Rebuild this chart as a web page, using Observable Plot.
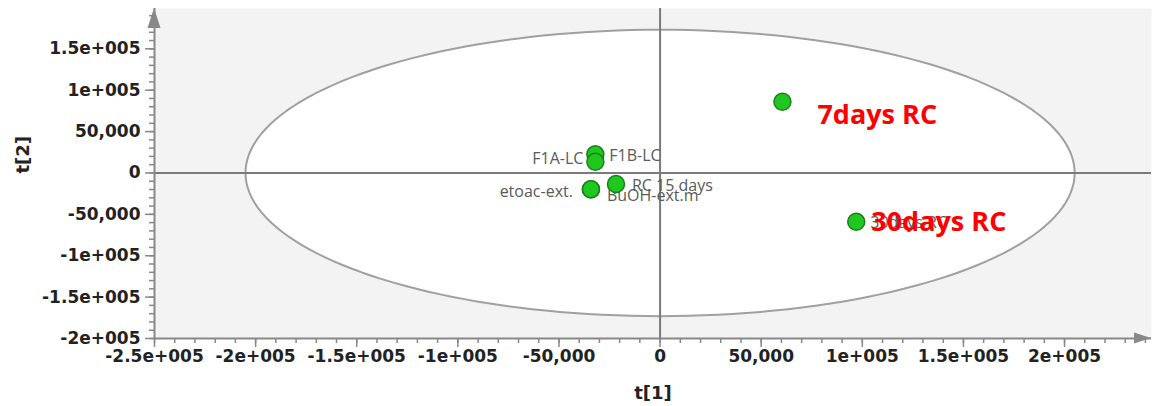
<!DOCTYPE html>
<html><head><meta charset="utf-8">
<script src="https://cdn.jsdelivr.net/npm/d3@7"></script>
<script src="https://cdn.jsdelivr.net/npm/@observablehq/plot@0.6"></script>
<style>body{margin:0;background:#fff}</style>
</head><body><div id="chart"></div>
<script>
// Sample scores (t[1], t[2])
const samples = ["F1B-LC", "F1A-LC", "etoac-ext.", "BuOH-ext.m", "RC 15 days", "7days RC", "30days RC"];
const t1 = [-32000, -32000, -34200, -34200, -21800, 60500, 97000];
const t2 = [22600, 13500, -19700, -19700, -13400, 86000, -59000];

// Tick labels
const xTicks = [-250000, -200000, -150000, -100000, -50000, 0, 50000, 100000, 150000, 200000];
const xTickLabels = ["-2.5e+005", "-2e+005", "-1.5e+005", "-1e+005", "-50,000", "0", "50,000", "1e+005", "1.5e+005", "2e+005"];
const yTicks = [-200000, -150000, -100000, -50000, 0, 50000, 100000, 150000];
const yTickLabels = ["-2e+005", "-1.5e+005", "-1e+005", "-50,000", "0", "50,000", "1e+005", "1.5e+005"];

// Hotelling T2 ellipse semi-axes
const ellipseA = 205000;
const ellipseB = 173000;

// Red annotations
const annotationNames = ["7days RC", "30days RC"];

// Build tables
const points = samples.map((s, i) => ({name: s, t1: t1[i], t2: t2[i]}));
const ellipse = d3.range(0, 361, 2).map(a => ({
  x: ellipseA * Math.cos(a * Math.PI / 180),
  y: ellipseB * Math.sin(a * Math.PI / 180)
}));
const xMinor = d3.range(-250000, 243000, 10000);
const yMinor = d3.range(-200000, 198700, 10000);

const labelPlacement = [
  {name: "F1B-LC", anchor: "start", dx: 14, dy: 1.5},
  {name: "F1A-LC", anchor: "end", dx: -12, dy: -2.5},
  {name: "etoac-ext.", anchor: "end", dx: -18, dy: 3},
  {name: "BuOH-ext.m", anchor: "start", dx: 16, dy: 6.5},
  {name: "RC 15 days", anchor: "start", dx: 16, dy: 1.7},
  {name: "30days RC", anchor: "start", dx: 14, dy: 1}
];
const annotPlacement = {"7days RC": {dx: 35, dy: 14}, "30days RC": {dx: 15, dy: 1}};

const labelMarks = labelPlacement.map(p => Plot.text(points.filter(d => d.name === p.name), {
  x: "t1", y: "t2", text: "name", textAnchor: p.anchor, dx: p.dx, dy: p.dy,
  fill: "#5a5a5a", fontSize: 16, fontWeight: "normal", fontFamily: "'Open Sans', sans-serif"
}));
const annotMarks = annotationNames.map(n => Plot.text(points.filter(d => d.name === n), {
  x: "t1", y: "t2", text: "name", textAnchor: "start",
  dx: annotPlacement[n].dx, dy: annotPlacement[n].dy,
  fill: "#ff0000", fontSize: 27, fontWeight: "bold", fontFamily: "'Open Sans', sans-serif"
}));

const chart = Plot.plot({
  width: 1153,
  height: 406,
  marginLeft: 154,
  marginRight: 2,
  marginTop: 8,
  marginBottom: 68,
  style: {fontFamily: "'DejaVu Sans', sans-serif", fontSize: "17px", fontWeight: "bold", background: "#fff"},
  x: {domain: [-250000, 243000]},
  y: {domain: [-200000, 198700]},
  marks: [
    Plot.frame({fill: "#f3f3f3", stroke: "none"}),
    Plot.line(ellipse, {x: "x", y: "y", fill: "white", stroke: "#a0a0a0", strokeWidth: 2}),
    Plot.ruleX([0], {stroke: "#7a7a7a", strokeWidth: 2}),
    Plot.ruleY([0], {stroke: "#7a7a7a", strokeWidth: 2}),
    Plot.axisX({ticks: xMinor, tickSize: 5, tickFormat: () => "", stroke: "#888", strokeWidth: 1.5, label: null}),
    Plot.axisY({ticks: yMinor, tickSize: 5, tickFormat: () => "", stroke: "#888", strokeWidth: 1.5, label: null}),
    Plot.axisX({ticks: xTicks, tickSize: 9, tickPadding: 2, stroke: "#888", strokeWidth: 1.5, color: "#222",
      tickFormat: d => xTickLabels[xTicks.indexOf(d)], label: null}),
    Plot.axisY({ticks: yTicks, tickSize: 9, tickPadding: 5, stroke: "#888", strokeWidth: 1.5, color: "#222",
      tickFormat: d => yTickLabels[yTicks.indexOf(d)], label: null}),
    Plot.ruleY([-200000], {stroke: "#888", strokeWidth: 2}),
    Plot.ruleX([-250000], {stroke: "#888", strokeWidth: 2}),
    Plot.text(["t[1]"], {frameAnchor: "bottom", dy: 60, fill: "#222", fontSize: 18, fontWeight: "bold"}),
    Plot.text(["t[2]"], {frameAnchor: "left", dx: -131, rotate: -90, fill: "#222", fontSize: 18, fontWeight: "bold"}),
    ...labelMarks,
    Plot.dot(points, {x: "t1", y: "t2", r: 8.5, fill: "#1fc81f", stroke: "#1a7d1a", strokeWidth: 1.5}),
    ...annotMarks
  ]
});

// Arrow heads at the ends of the axis lines (positions from Plot's scales)
const sx = chart.scale("x"), sy = chart.scale("y");
const x0 = sx.apply(-250000), xEnd = sx.apply(243000);
const y0 = sy.apply(-200000), yEnd = sy.apply(198700);
const svg = d3.select(chart);
svg.append("polygon")
  .attr("points", `${xEnd},${y0} ${xEnd - 17},${y0 - 5.5} ${xEnd - 17},${y0 + 5.5}`)
  .attr("fill", "#888");
svg.append("polygon")
  .attr("points", `${x0},${yEnd} ${x0 - 6.5},${yEnd + 20} ${x0 + 6.5},${yEnd + 20}`)
  .attr("fill", "#888");

document.getElementById("chart").appendChild(chart);
</script>
</body></html>
